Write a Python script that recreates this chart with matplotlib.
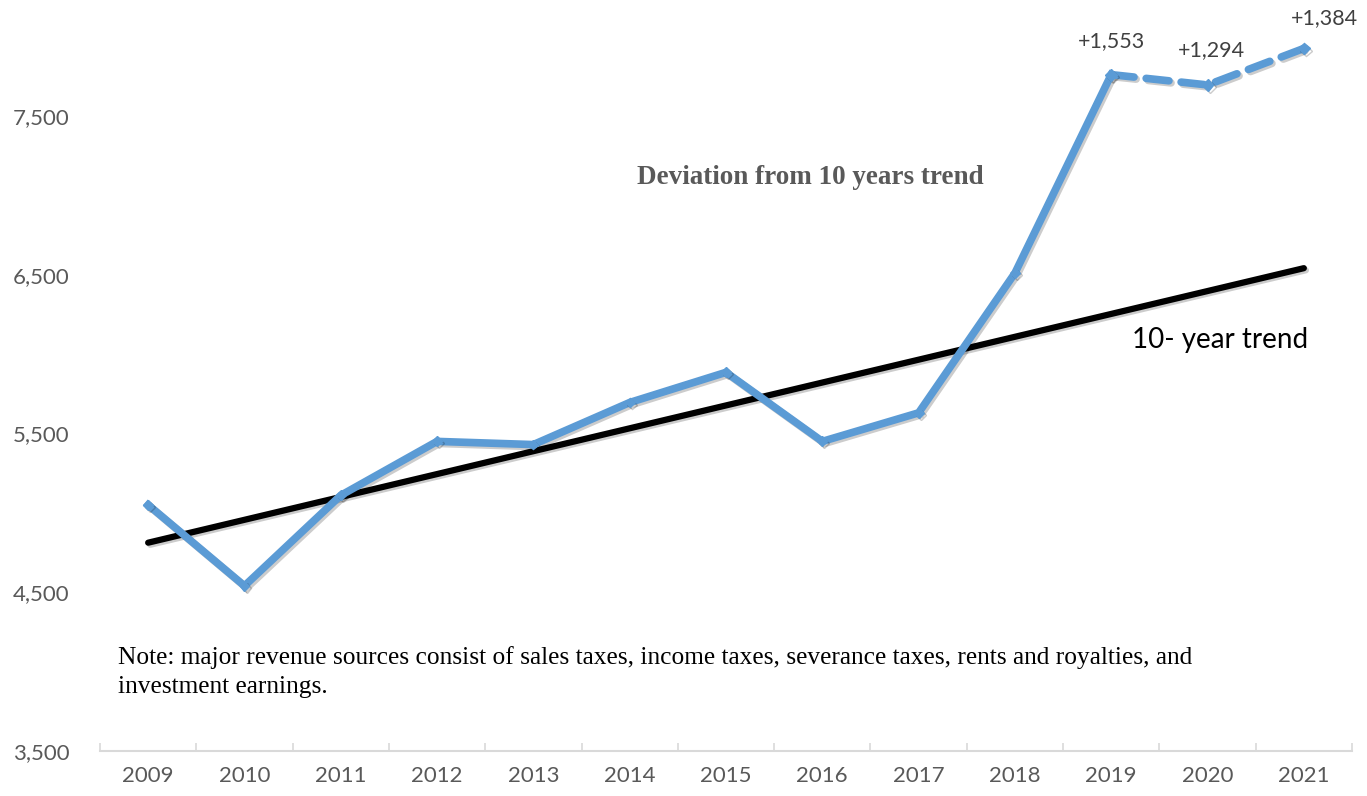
import matplotlib.pyplot as plt
import matplotlib.patheffects as pe
from matplotlib.ticker import FuncFormatter, FixedLocator

# data
years = ["2009", "2010", "2011", "2012", "2013", "2014", "2015",
         "2016", "2017", "2018", "2019", "2020", "2021"]
revenue = [5050, 4540, 5110, 5450, 5430, 5695, 5885,
           5450, 5630, 6510, 7760, 7695, 7925]
trend_ends = [4812, 6541]          # 10-year trend at 2009 and 2021
deviation_labels = ["+1,553", "+1,294", "+1,384"]   # 2019-2021
y_ticks = [3500, 4500, 5500, 6500, 7500]

blue = "#5B9BD5"
gray = "#595959"

fig = plt.figure(figsize=(13.67, 7.96), dpi=100)
ax = fig.add_axes([100 / 1367, 45 / 796, 1252 / 1367, 751 / 796])

x = list(range(len(years)))
shadow = [pe.SimpleLineShadow(offset=(1.5, -1.5), alpha=0.2), pe.Normal()]

# actual revenue: solid through 2019, dashed for the projection years
ax.plot(x[:11], revenue[:11], color=blue, lw=5.5, marker="D", ms=5,
        solid_joinstyle="miter", path_effects=shadow, zorder=3)
ax.plot(x[10:], revenue[10:], color=blue, lw=5.5, marker="D", ms=6,
        dashes=(3, 1.6), dash_capstyle="round", path_effects=shadow, zorder=3)

# 10-year trend line
ax.plot([x[0], x[-1]], trend_ends, color="black", lw=4.5,
        solid_capstyle="round", path_effects=shadow, zorder=2)

# deviation labels above the last three points
offsets = [(0, 24), (3, 25), (15, 22)]
for i, lab in enumerate(deviation_labels):
    ax.annotate(lab, (x[10 + i], revenue[10 + i]), xytext=offsets[i],
                textcoords="offset points", ha="center", va="center",
                fontsize=15.5, color="#404040", family="Lato")

ax.set_xlim(-0.5, len(years) - 0.5)
ax.set_ylim(3500, 8230)

ax.set_xticks(x)
ax.set_xticklabels(years, fontsize=16, color=gray, family="Lato")
ax.xaxis.set_minor_locator(FixedLocator([i - 0.5 for i in range(len(years) + 1)]))
ax.tick_params(axis="x", which="major", length=0, pad=11)
ax.tick_params(axis="x", which="minor", direction="in", length=6,
               width=1.2, color="#D9D9D9")

ax.set_yticks(y_ticks)
ax.yaxis.set_major_formatter(FuncFormatter(lambda v, p: f"{int(v):,}"))
ax.tick_params(axis="y", length=0, pad=22, labelsize=16, labelcolor=gray)
for t in ax.get_yticklabels():
    t.set_family("Lato")

for side in ["top", "right", "left"]:
    ax.spines[side].set_visible(False)
ax.spines["bottom"].set_color("#D9D9D9")
ax.spines["bottom"].set_linewidth(1.5)

fig.text(810 / 1367, 1 - 178 / 796, "Deviation from 10 years trend",
         ha="center", va="center", fontsize=19.5, fontweight="bold",
         color=gray, family="Liberation Serif")
fig.text(1220 / 1367, 1 - 340 / 796, "10- year trend", ha="center",
         va="center", fontsize=20, color="black", family="Lato")
fig.text(118 / 1367, 1 - 672 / 796,
         "Note: major revenue sources consist of sales taxes, income taxes, "
         "severance taxes, rents and royalties, and\ninvestment earnings.",
         ha="left", va="center", fontsize=18.3, color="black",
         family="Liberation Serif", linespacing=1.4)

fig.savefig("out.png", dpi=100)
